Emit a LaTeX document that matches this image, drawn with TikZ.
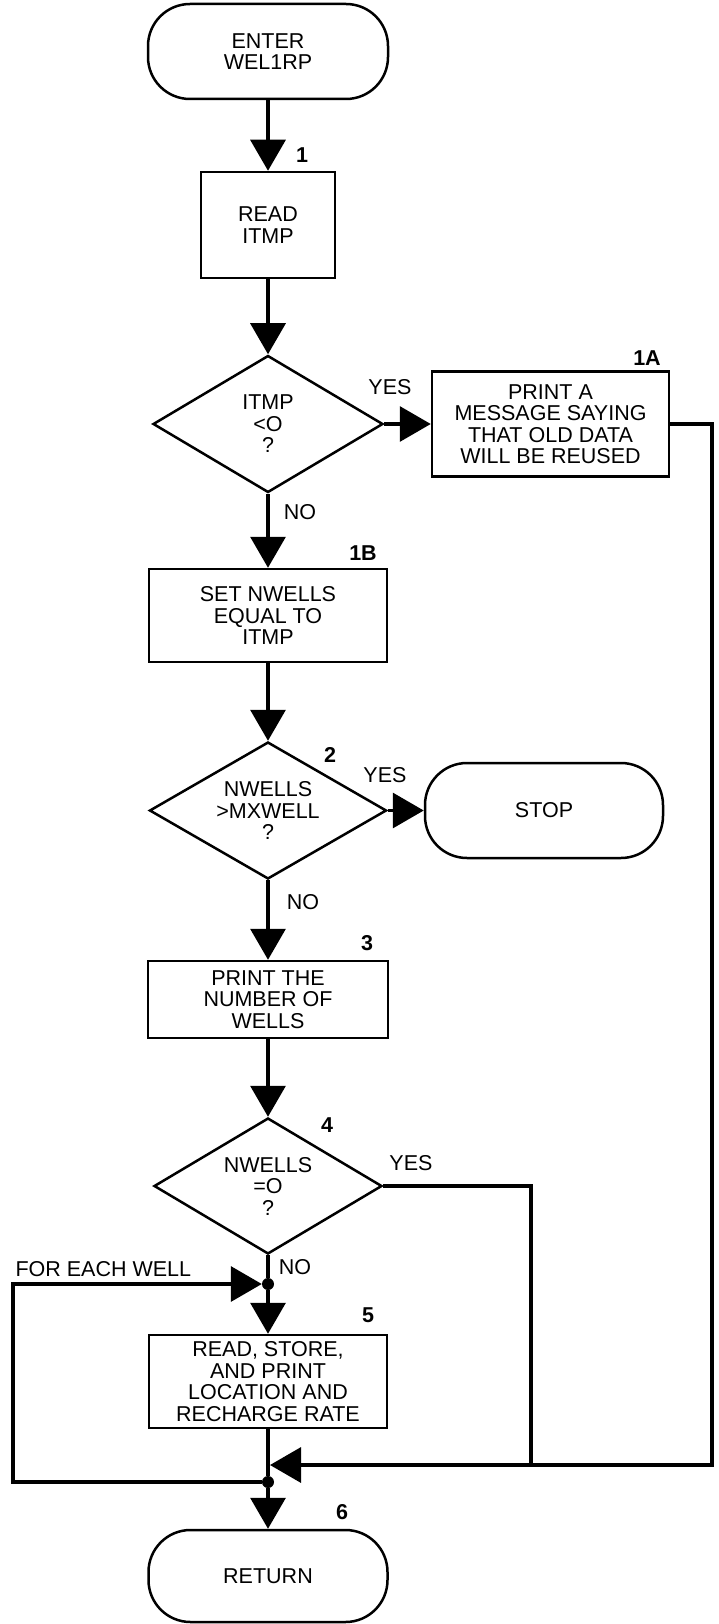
\documentclass[tikz,border=0pt]{standalone}
\usepackage{fontspec}
\setmainfont{Liberation Sans}
\usetikzlibrary{arrows.meta, shapes.geometric}

\begin{document}
\begin{tikzpicture}[x=1pt, y=-1pt,
  every node/.style={align=center, font=\fontsize{21.5}{21.5}\selectfont},
  term/.style={rectangle, draw, line width=2.5pt, rounded corners=42pt,
               minimum width=240pt, minimum height=95pt},
  proc/.style={rectangle, draw, line width=2.5pt, inner sep=0pt,
               minimum width=238pt},
  decision/.style={diamond, draw, line width=2.5pt, aspect=1.66, inner sep=0pt,
                   minimum width=230pt, minimum height=137pt},
  dot/.style={circle, fill, inner sep=0pt, minimum size=12pt},
  tag/.style={font=\fontsize{21.5}{21.5}\selectfont\bfseries},
  arrow/.style={-{Triangle[length=31pt, width=35pt]}, line width=3.3pt},
  line/.style={line width=3.2pt}
]
\useasboundingbox (0,0) rectangle (718,1624);

% Main column
\node[term] (enter) at (268,51.5) {ENTER\\WEL1RP};
\node[proc, minimum width=134pt, minimum height=106pt] (read_itmp) at (268,225) {READ\\ITMP};
\node[decision] (chk_itmp) at (268,424) {ITMP\\<O\\?};
\node[proc, minimum height=93pt] (set_nw) at (268,615.5) {SET NWELLS\\EQUAL TO\\ITMP};
\node[decision, minimum width=237pt] (chk_max) at (268,810.5) {NWELLS\\>MXWELL\\?};
\node[proc, minimum width=240pt, minimum height=77pt] (prt_num) at (268,999.5) {PRINT THE\\NUMBER OF\\WELLS};
\node[decision, minimum width=228pt, minimum height=136pt] (chk_zero) at (268,1186) {NWELLS\\=O\\?};
\node[dot] (join_a) at (268,1284) {};
\node[proc, minimum height=93pt] (rd_well) at (268,1381.5) {READ, STORE,\\AND PRINT\\LOCATION AND\\RECHARGE RATE};
\node[dot] (join_b) at (268,1482) {};
\node[term, minimum width=239pt, minimum height=92pt] (ret) at (268,1576) {RETURN};

% Side boxes
\node[proc, minimum width=237pt, minimum height=105pt] (msg_old) at (550.5,424) {PRINT A\\MESSAGE SAYING\\THAT OLD DATA\\WILL BE REUSED};
\node[term, minimum width=238pt] (stop) at (544,810.5) {STOP};

% Step numbers and branch labels
\node[tag] (n1)  at (302,155)  {1};
\node[tag] (n1a) at (647,358)  {1A};
\node[tag] (n1b) at (363,553)  {1B};
\node[tag] (n2)  at (330,755)  {2};
\node[tag] (n3)  at (367,943)  {3};
\node[tag] (n4)  at (327,1125) {4};
\node[tag] (n5)  at (368,1315) {5};
\node[tag] (n6)  at (342,1512) {6};
\node (yes1) at (390,387)  {YES};
\node (no1)  at (300,512)  {NO};
\node (yes2) at (385,775)  {YES};
\node (no2)  at (303,902)  {NO};
\node (yes4) at (411,1163) {YES};
\node (no4)  at (295,1267) {NO};
\node[anchor=west] (each) at (12,1269) {FOR EACH WELL};

% Flow down the column
\draw[arrow] (enter) -- (read_itmp);
\draw[arrow] (read_itmp) -- (chk_itmp);
\draw[arrow] (chk_itmp) -- (msg_old);
\draw[arrow] (chk_itmp) -- (set_nw);
\draw[arrow] (set_nw) -- (chk_max);
\draw[arrow] (chk_max) -- (stop);
\draw[arrow] (chk_max) -- (prt_num);
\draw[arrow] (prt_num) -- (chk_zero);
\draw[line]  (chk_zero) -- (join_a);
\draw[arrow] (join_a) -- (rd_well);
\draw[line]  (rd_well) -- (join_b);
\draw[arrow] (join_b) -- (ret);

% Return paths on the right
\coordinate (rt_top) at (712,424);
\coordinate (rt_bot) at (712,1465);
\coordinate (merge) at (270,1465);
\coordinate (yes_drop) at (531,1465);
\draw[arrow] (msg_old.east) -- (rt_top) -- (rt_bot) -- (merge);
\draw[line] (chk_zero.east) -| (yes_drop);

% Loop for each well
\coordinate (loop_bl) at (13,1482);
\coordinate (loop_tl) at (13,1284);
\draw[arrow] (join_b) -- (loop_bl) -- (loop_tl) -- (join_a);

\end{tikzpicture}
\end{document}
